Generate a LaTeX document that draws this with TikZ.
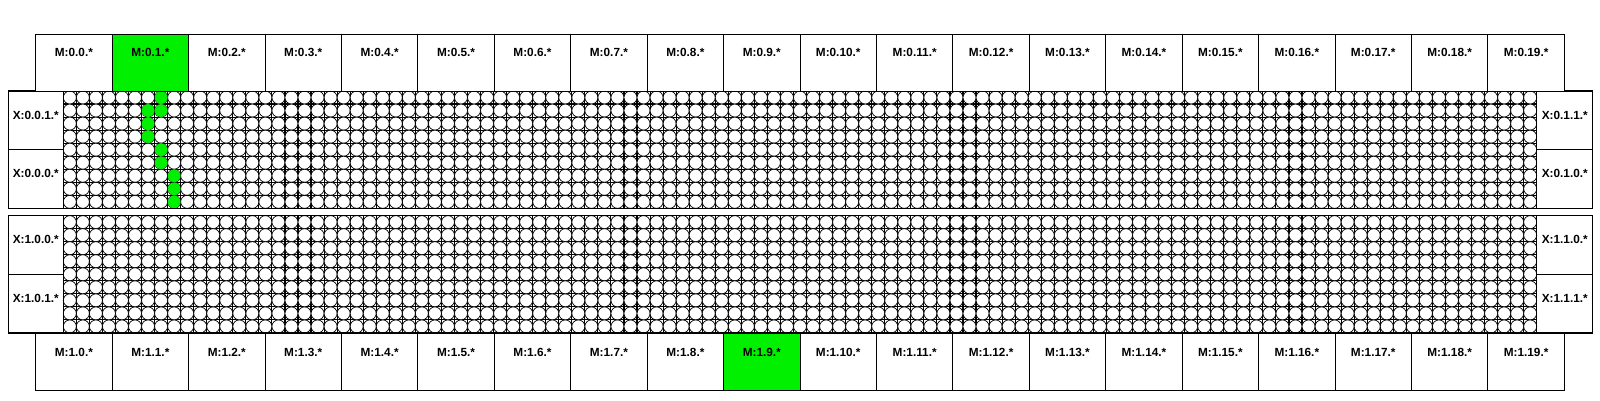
\documentclass[tikz,border=0pt]{standalone}
\usepackage{fontspec}
\setmainfont{Liberation Sans}
\definecolor{hl}{RGB}{0,240,0}
\begin{document}
\begin{tikzpicture}[x=1pt,y=-1pt,
  boxst/.style={draw=black,line width=0.9pt,rectangle,inner sep=0pt,outer sep=0pt,anchor=north west},
  lab/.style={font=\bfseries\fontsize{11.8}{14}\selectfont,inner sep=0pt,anchor=center},
  gl/.style={line width=1.1pt,black},
  cellst/.style={draw=black,fill=white,line width=0.7pt},
  hot/.style={draw=hl,fill=hl,line width=0.4pt}]
\useasboundingbox (0,0) rectangle (1600,400);
\fill[white] (0,0) rectangle (1600,400);
\def\MX{35.7}\def\MW{76.43}
\def\GX{63.3}\def\CS{13.039}
% grids
\foreach \top/\b in {91/0,215.6/1}{
  \foreach \k in {0,...,113}
    \draw[gl] ({\GX+\k*\CS},\top) -- ++(0,{9*\CS});
  \foreach \k in {0,...,9}
    \draw[gl] (\GX,{\top+\k*\CS}) -- ++({113*\CS},0);
  \foreach \r in {0,...,8}
    \foreach \c in {0,...,112}
      \draw[cellst] ({\GX+(\c+0.5)*\CS},{\top+(\r+0.5)*\CS}) circle (6.5);
}
% highlighted cells
\foreach \r/\c in {0/7,1/6,1/7,2/6,3/6,4/7,5/7,6/8,7/8,8/8}
  \draw[hot] ({\GX+(\c+0.5)*\CS},{91+(\r+0.5)*\CS}) circle (6.1);
% block outlines
\draw[gl] (8.3,91) rectangle (1592.7,{91+9*\CS});
\draw[gl] (8.3,215.6) rectangle (1592.7,{215.6+9*\CS});
% X boxes
\def\XH{58.7}
\node[boxst,minimum width=55pt,minimum height=\XH pt] (x001) at (8.3,91) {};
\node[boxst,minimum width=55pt,minimum height=\XH pt] (x000) at (8.3,149.7) {};
\node[boxst,minimum width=55.9pt,minimum height=\XH pt] (x011) at (1536.8,91) {};
\node[boxst,minimum width=55.9pt,minimum height=\XH pt] (x010) at (1536.8,149.7) {};
\node[boxst,minimum width=55pt,minimum height=\XH pt] (x100) at (8.3,215.6) {};
\node[boxst,minimum width=55pt,minimum height=\XH pt] (x101) at (8.3,274.3) {};
\node[boxst,minimum width=55.9pt,minimum height=\XH pt] (x110) at (1536.8,215.6) {};
\node[boxst,minimum width=55.9pt,minimum height=\XH pt] (x111) at (1536.8,274.3) {};
\foreach \n/\t in {x001/X:0.0.1.*,x000/X:0.0.0.*,x011/X:0.1.1.*,x010/X:0.1.0.*,x100/X:1.0.0.*,x101/X:1.0.1.*,x110/X:1.1.0.*,x111/X:1.1.1.*}
  \node[lab] (\n-t) at ([yshift=-24pt]\n.north) {\t};
% M boxes
\foreach \i in {0,...,19}{
  \pgfmathsetmacro{\xx}{\MX+\i*\MW}
  \ifnum\i=1 \def\fc{hl}\else\def\fc{white}\fi
  \node[boxst,fill=\fc,minimum width=\MW pt,minimum height=56.7pt] (m0-\i) at (\xx,34.3) {};
  \node[lab] (m0-\i-t) at ([yshift=-18.5pt]m0-\i.north) {M:0.\i.*};
  \ifnum\i=9 \def\fc{hl}\else\def\fc{white}\fi
  \node[boxst,fill=\fc,minimum width=\MW pt,minimum height=56.7pt] (m1-\i) at (\xx,333.3) {};
  \node[lab] (m1-\i-t) at ([yshift=-19.5pt]m1-\i.north) {M:1.\i.*};
}
\end{tikzpicture}
\end{document}
